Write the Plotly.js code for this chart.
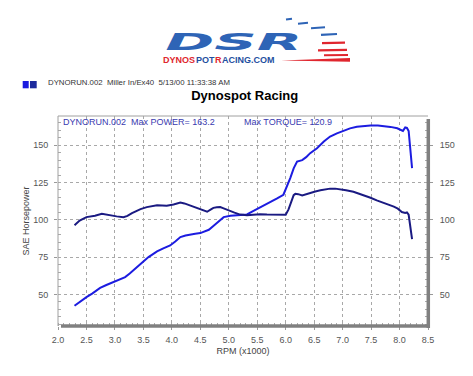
<!DOCTYPE html>
<html>
<head>
<meta charset="utf-8">
<script src="https://cdn.plot.ly/plotly-3.0.1.min.js"></script>
<style>
html,body{margin:0;padding:0;background:#fff;}
#chart{width:473px;height:376px;}
</style>
</head>
<body>
<div id="chart"></div>
<script>
// ---- data (RPM x1000) ----
const powerRpm = [2.29,2.40,2.50,2.60,2.68,2.74,2.85,2.98,3.08,3.18,3.26,3.33,3.41,3.48,3.59,3.74,3.85,3.97,4.06,4.15,4.24,4.32,4.41,4.50,4.58,4.65,4.75,4.85,4.91,5.03,5.17,5.32,5.41,5.50,5.59,5.67,5.76,5.85,5.96,6.02,6.08,6.14,6.20,6.29,6.36,6.43,6.55,6.67,6.78,6.90,7.02,7.13,7.25,7.37,7.49,7.62,7.72,7.84,7.96,8.02,8.06,8.10,8.13,8.16,8.19,8.22];
const powerHp  = [42.4,45.5,48.2,50.5,52.6,54.4,56.3,58.5,60.0,61.6,64.0,66.5,69.0,71.4,75.0,78.8,80.8,82.8,85.5,88.4,89.5,90.2,90.7,91.1,92.0,93.3,96.5,100.0,101.8,102.7,102.9,103.6,105.5,107.2,109.0,110.7,112.5,114.3,116.8,122.0,128.0,134.5,139.0,140.0,142.0,144.7,148.0,152.5,155.8,158.0,159.8,161.3,162.4,163.0,163.2,163.2,163.0,162.3,161.4,160.6,159.6,161.9,161.6,159.5,148.0,134.6];
const torqueRpm = [2.29,2.38,2.50,2.65,2.77,2.85,2.92,3.03,3.15,3.22,3.30,3.38,3.45,3.56,3.66,3.74,3.83,3.91,4.03,4.10,4.15,4.22,4.27,4.35,4.44,4.53,4.62,4.68,4.73,4.79,4.85,4.91,4.97,5.03,5.10,5.20,5.32,5.43,5.55,5.67,5.79,5.90,6.00,6.05,6.10,6.14,6.17,6.22,6.29,6.36,6.43,6.52,6.61,6.70,6.78,6.87,6.96,7.06,7.19,7.25,7.37,7.49,7.60,7.72,7.83,7.90,7.97,8.04,8.10,8.13,8.16,8.19,8.22];
const torqueVal = [96.4,99.5,101.8,102.7,104.0,103.5,102.7,102.3,101.8,102.6,104.5,106.0,107.2,108.5,109.5,109.8,109.6,109.4,110.3,111.2,111.6,111.0,110.3,109.0,107.6,106.3,105.4,106.8,108.0,108.4,108.5,107.7,106.7,106.0,104.8,103.5,103.1,103.4,103.8,103.6,103.6,103.4,103.4,107.0,112.0,116.5,117.4,117.2,116.3,117.2,118.2,119.0,119.8,120.6,120.9,120.9,120.6,119.8,118.8,118.0,116.6,114.8,113.0,111.4,110.0,108.8,107.5,105.2,104.6,105.0,103.4,95.0,87.0];
const yTicks = [50,75,100,125,150];
const xTicks = [2.0,2.5,3.0,3.5,4.0,4.5,5.0,5.5,6.0,6.5,7.0,7.5,8.0,8.5];
const xTickText = xTicks.map(v => v.toFixed(1));
const urlParts = ['DYNOS', 'POT', 'R', 'ACING.COM'];
const urlColors = ['#e0262e', '#1f4fa0', '#e0262e', '#1f4fa0'];

// ---- geometry helpers (pixel -> paper) ----
const L = 58, R = 428, T = 116, B = 326;
const px = x => (x - L) / (R - L);
const py = y => (B - y) / (B - T);

const traces = [
  {x: powerRpm, y: powerHp, type: 'scatter', mode: 'lines', name: 'Power',
   line: {color: '#1c1ce0', width: 2}, hoverinfo: 'skip', showlegend: false},
  {x: torqueRpm, y: torqueVal, type: 'scatter', mode: 'lines', name: 'Torque', yaxis: 'y2',
   line: {color: '#1a1a82', width: 2}, hoverinfo: 'skip', showlegend: false}
];

const FF = 'Liberation Sans, Arial, sans-serif';
const tickFont = {family: FF, size: 9, color: '#555'};
const yRange = [28.8, 169.6];
const gridCommon = {gridcolor: '#a8a8a8', gridwidth: 1, griddash: '3px,3px', zeroline: false, showline: false};

const shapes = [
  // frame
  {type: 'line', xref: 'paper', yref: 'paper', x0: 0, x1: 0, y0: 0, y1: 1, line: {color: '#a0a0a0', width: 1}},
  {type: 'line', xref: 'paper', yref: 'paper', x0: 0, x1: 1, y0: 1, y1: 1, line: {color: '#a0a0a0', width: 1}},
  {type: 'line', xref: 'paper', yref: 'paper', x0: px(61), x1: px(430), y0: py(326), y1: py(326), line: {color: '#808080', width: 3.5}},
  {type: 'line', xref: 'paper', yref: 'paper', x0: px(428.3), x1: px(428.3), y0: py(119), y1: py(328), line: {color: '#808080', width: 3.5}},
  // header squares
  {type: 'rect', xref: 'paper', yref: 'paper', x0: px(22.7), x1: px(28.7), y0: py(81), y1: py(88.3), fillcolor: '#1a1ae0', line: {width: 0}},
  {type: 'rect', xref: 'paper', yref: 'paper', x0: px(30), x1: px(36.7), y0: py(81), y1: py(88.3), fillcolor: '#1c2a9c', line: {width: 0}},
  // logo blue dashes
  {type: 'line', xref: 'paper', yref: 'paper', x0: px(286), x1: px(292), y0: py(19.5), y1: py(18.8), line: {color: '#2e64b6', width: 2}},
  {type: 'line', xref: 'paper', yref: 'paper', x0: px(298), x1: px(308), y0: py(23.8), y1: py(22.8), line: {color: '#2e64b6', width: 2}},
  {type: 'line', xref: 'paper', yref: 'paper', x0: px(311), x1: px(325), y0: py(28.3), y1: py(27.3), line: {color: '#2e64b6', width: 2}},
  {type: 'line', xref: 'paper', yref: 'paper', x0: px(321), x1: px(337), y0: py(34.8), y1: py(34), line: {color: '#2e64b6', width: 2.2}},
  // logo red streaks
  {type: 'line', xref: 'paper', yref: 'paper', x0: px(322), x1: px(345), y0: py(43.2), y1: py(42.6), line: {color: '#e0262e', width: 2.2}},
  {type: 'line', xref: 'paper', yref: 'paper', x0: px(318), x1: px(347), y0: py(50.3), y1: py(49.8), line: {color: '#e0262e', width: 2.2}},
  {type: 'line', xref: 'paper', yref: 'paper', x0: px(324), x1: px(348), y0: py(55.3), y1: py(55), line: {color: '#e0262e', width: 2}},
  {type: 'path', xref: 'paper', yref: 'paper',
   path: `M ${px(281)} ${py(60.5)} L ${px(350)} ${py(58)} L ${px(350)} ${py(61.8)} Z`,
   fillcolor: '#e0262e', line: {width: 0}}
];

const annotations = [
  {xref: 'paper', yref: 'paper', x: px(61), y: py(122.3), xanchor: 'left', yanchor: 'middle', showarrow: false,
   text: 'DYNORUN.002  Max POWER= 163.2', font: {family: FF, size: 9, color: '#3a3ab0'}},
  {xref: 'paper', yref: 'paper', x: px(242), y: py(122.3), xanchor: 'left', yanchor: 'middle', showarrow: false,
   text: 'Max TORQUE= 120.9', font: {family: FF, size: 9, color: '#3a3ab0'}},
  {xref: 'paper', yref: 'paper', x: px(46), y: py(82.5), xanchor: 'left', yanchor: 'middle', showarrow: false,
   text: 'DYNORUN.002  Miller In/Ex40  5/13/00 11:33:38 AM', font: {family: FF, size: 7.8, color: '#333'}},
  {xref: 'paper', yref: 'paper', x: px(233), y: py(42.3), xanchor: 'center', yanchor: 'middle', showarrow: false,
   borderpad: 0, text: 'DSR', font: {family: 'DejaVu Sans, sans-serif', size: 23, weight: 'bold', style: 'italic', color: '#2e64b6'}}
];

// website line of the logo: separate coloured pieces placed side by side
(function () {
  const ctx = document.createElement('canvas').getContext('2d');
  ctx.font = 'bold 9px "Liberation Sans"';
  let x = 162;
  urlParts.forEach((part, i) => {
    annotations.push({xref: 'paper', yref: 'paper', x: px(x), y: py(60.3), xanchor: 'left', yanchor: 'middle',
      showarrow: false, borderpad: 0, text: part,
      font: {family: FF, size: 9, weight: 'bold', color: urlColors[i]}});
    x += ctx.measureText(part).width + 0.6;
  });
})();

const layout = {
  width: 473, height: 376,
  margin: {l: L, r: 473 - R, t: T, b: 376 - B, pad: 0},
  paper_bgcolor: '#ffffff', plot_bgcolor: '#ffffff',
  showlegend: false,
  title: {text: '<b>Dynospot Racing</b>', x: 244.7 / 473, xanchor: 'center', xref: 'container',
          y: 1 - 95.7 / 376, yanchor: 'middle', yref: 'container',
          font: {family: FF, size: 13, color: '#000'}},
  xaxis: Object.assign({
    range: [2.0, 8.5], tickvals: xTicks, ticktext: xTickText, showgrid: true,
    ticks: 'outside', ticklen: 3, tickcolor: '#999', tickfont: tickFont, ticklabelstandoff: 2,
    minor: {dtick: 0.1, ticks: 'inside', ticklen: 3, tickcolor: '#aaa', showgrid: false},
    title: {text: 'RPM (x1000)', font: {family: FF, size: 9, color: '#444'}, standoff: 3}
  }, gridCommon),
  yaxis: Object.assign({
    range: yRange, tickvals: yTicks, showgrid: true,
    ticks: 'outside', ticklen: 3, tickcolor: '#999', tickfont: tickFont, ticklabelstandoff: 4,
    minor: {dtick: 5, ticks: 'inside', ticklen: 3, tickcolor: '#aaa', showgrid: false},
    title: {text: 'SAE Horsepower', font: {family: FF, size: 9, color: '#444'}, standoff: 2}
  }, gridCommon),
  yaxis2: {
    overlaying: 'y', side: 'right', range: yRange, tickvals: yTicks, showgrid: false, zeroline: false, showline: false,
    ticks: 'outside', ticklen: 4, tickcolor: '#999', tickfont: tickFont, ticklabelstandoff: 5,
    minor: {dtick: 5, ticks: 'inside', ticklen: 3, tickcolor: '#aaa', showgrid: false}
  },
  shapes: shapes,
  annotations: annotations
};

Plotly.newPlot('chart', traces, layout, {staticPlot: true, displayModeBar: false}).then(gd => {
  // stretch the DSR logo lettering horizontally to match the wide logo type
  gd.querySelectorAll('text.annotation-text').forEach(t => {
    if (t.textContent === 'DSR') {
      const bb = t.getBBox();
      const cx = bb.x + bb.width / 2;
      const s = 137 / bb.width;
      t.setAttribute('transform', `translate(${cx},0) scale(${s},1) translate(${-cx},0)`);
    }
  });
});
</script>
</body>
</html>
